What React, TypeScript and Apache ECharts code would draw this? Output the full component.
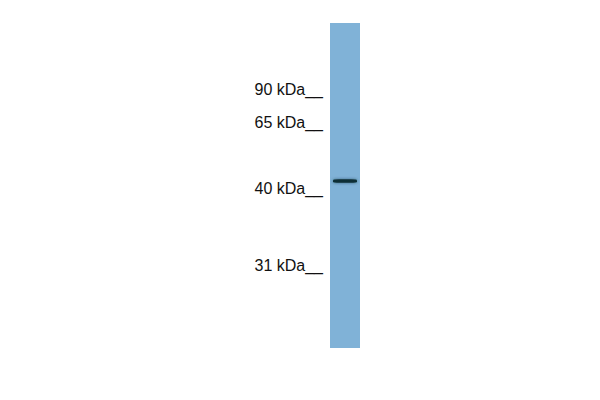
import { useEffect, useRef } from 'react';
import * as echarts from 'echarts';

// marker ladder: size in kDa and migration (px from top of lane)
const markerKDa = [90, 65, 40, 31];
const markerMigration = [66, 99, 165, 242];

// detected band(s) in the single lane
const lanes = ['sample'];
const laneLength = [325];
const bandMigration = [158];

export default function App() {
  const chartRef = useRef<HTMLDivElement | null>(null);

  useEffect(() => {
    if (!chartRef.current) return;
    const chart = echarts.init(chartRef.current, undefined, { renderer: 'svg' });

    chart.setOption({
      animation: false,
      backgroundColor: '#ffffff',
      grid: { left: 330, right: 240, top: 23, bottom: 52, containLabel: false },
      xAxis: {
        type: 'category',
        data: lanes,
        show: false,
      },
      yAxis: {
        type: 'value',
        inverse: true,
        min: 0,
        max: laneLength[0],
        splitLine: { show: false },
        axisLine: { show: false },
        axisTick: { show: false },
        axisLabel: {
          customValues: markerMigration,
          margin: 7,
          color: '#111111',
          fontSize: 16,
          fontFamily: 'Liberation Sans, Arial, sans-serif',
          formatter: (v: number) => {
            const i = markerMigration.indexOf(v);
            return i >= 0 ? `${markerKDa[i]} kDa__` : '';
          },
        },
      },
      series: [
        {
          type: 'bar',
          data: laneLength,
          barWidth: '100%',
          itemStyle: { color: '#80b2d7' },
          silent: true,
        },
        {
          type: 'scatter',
          data: bandMigration.map((m) => [0, m]),
          symbol: 'roundRect',
          symbolSize: [24, 3.5],
          z: 5,
          itemStyle: {
            color: '#0f2f36',
            opacity: 1,
            shadowBlur: 3,
            shadowColor: 'rgba(15,47,54,0.6)',
          },
        },
      ],
    });

    return () => chart.dispose();
  }, []);

  return <div ref={chartRef} style={{ width: 600, height: 400, margin: -8 }} />;
}
